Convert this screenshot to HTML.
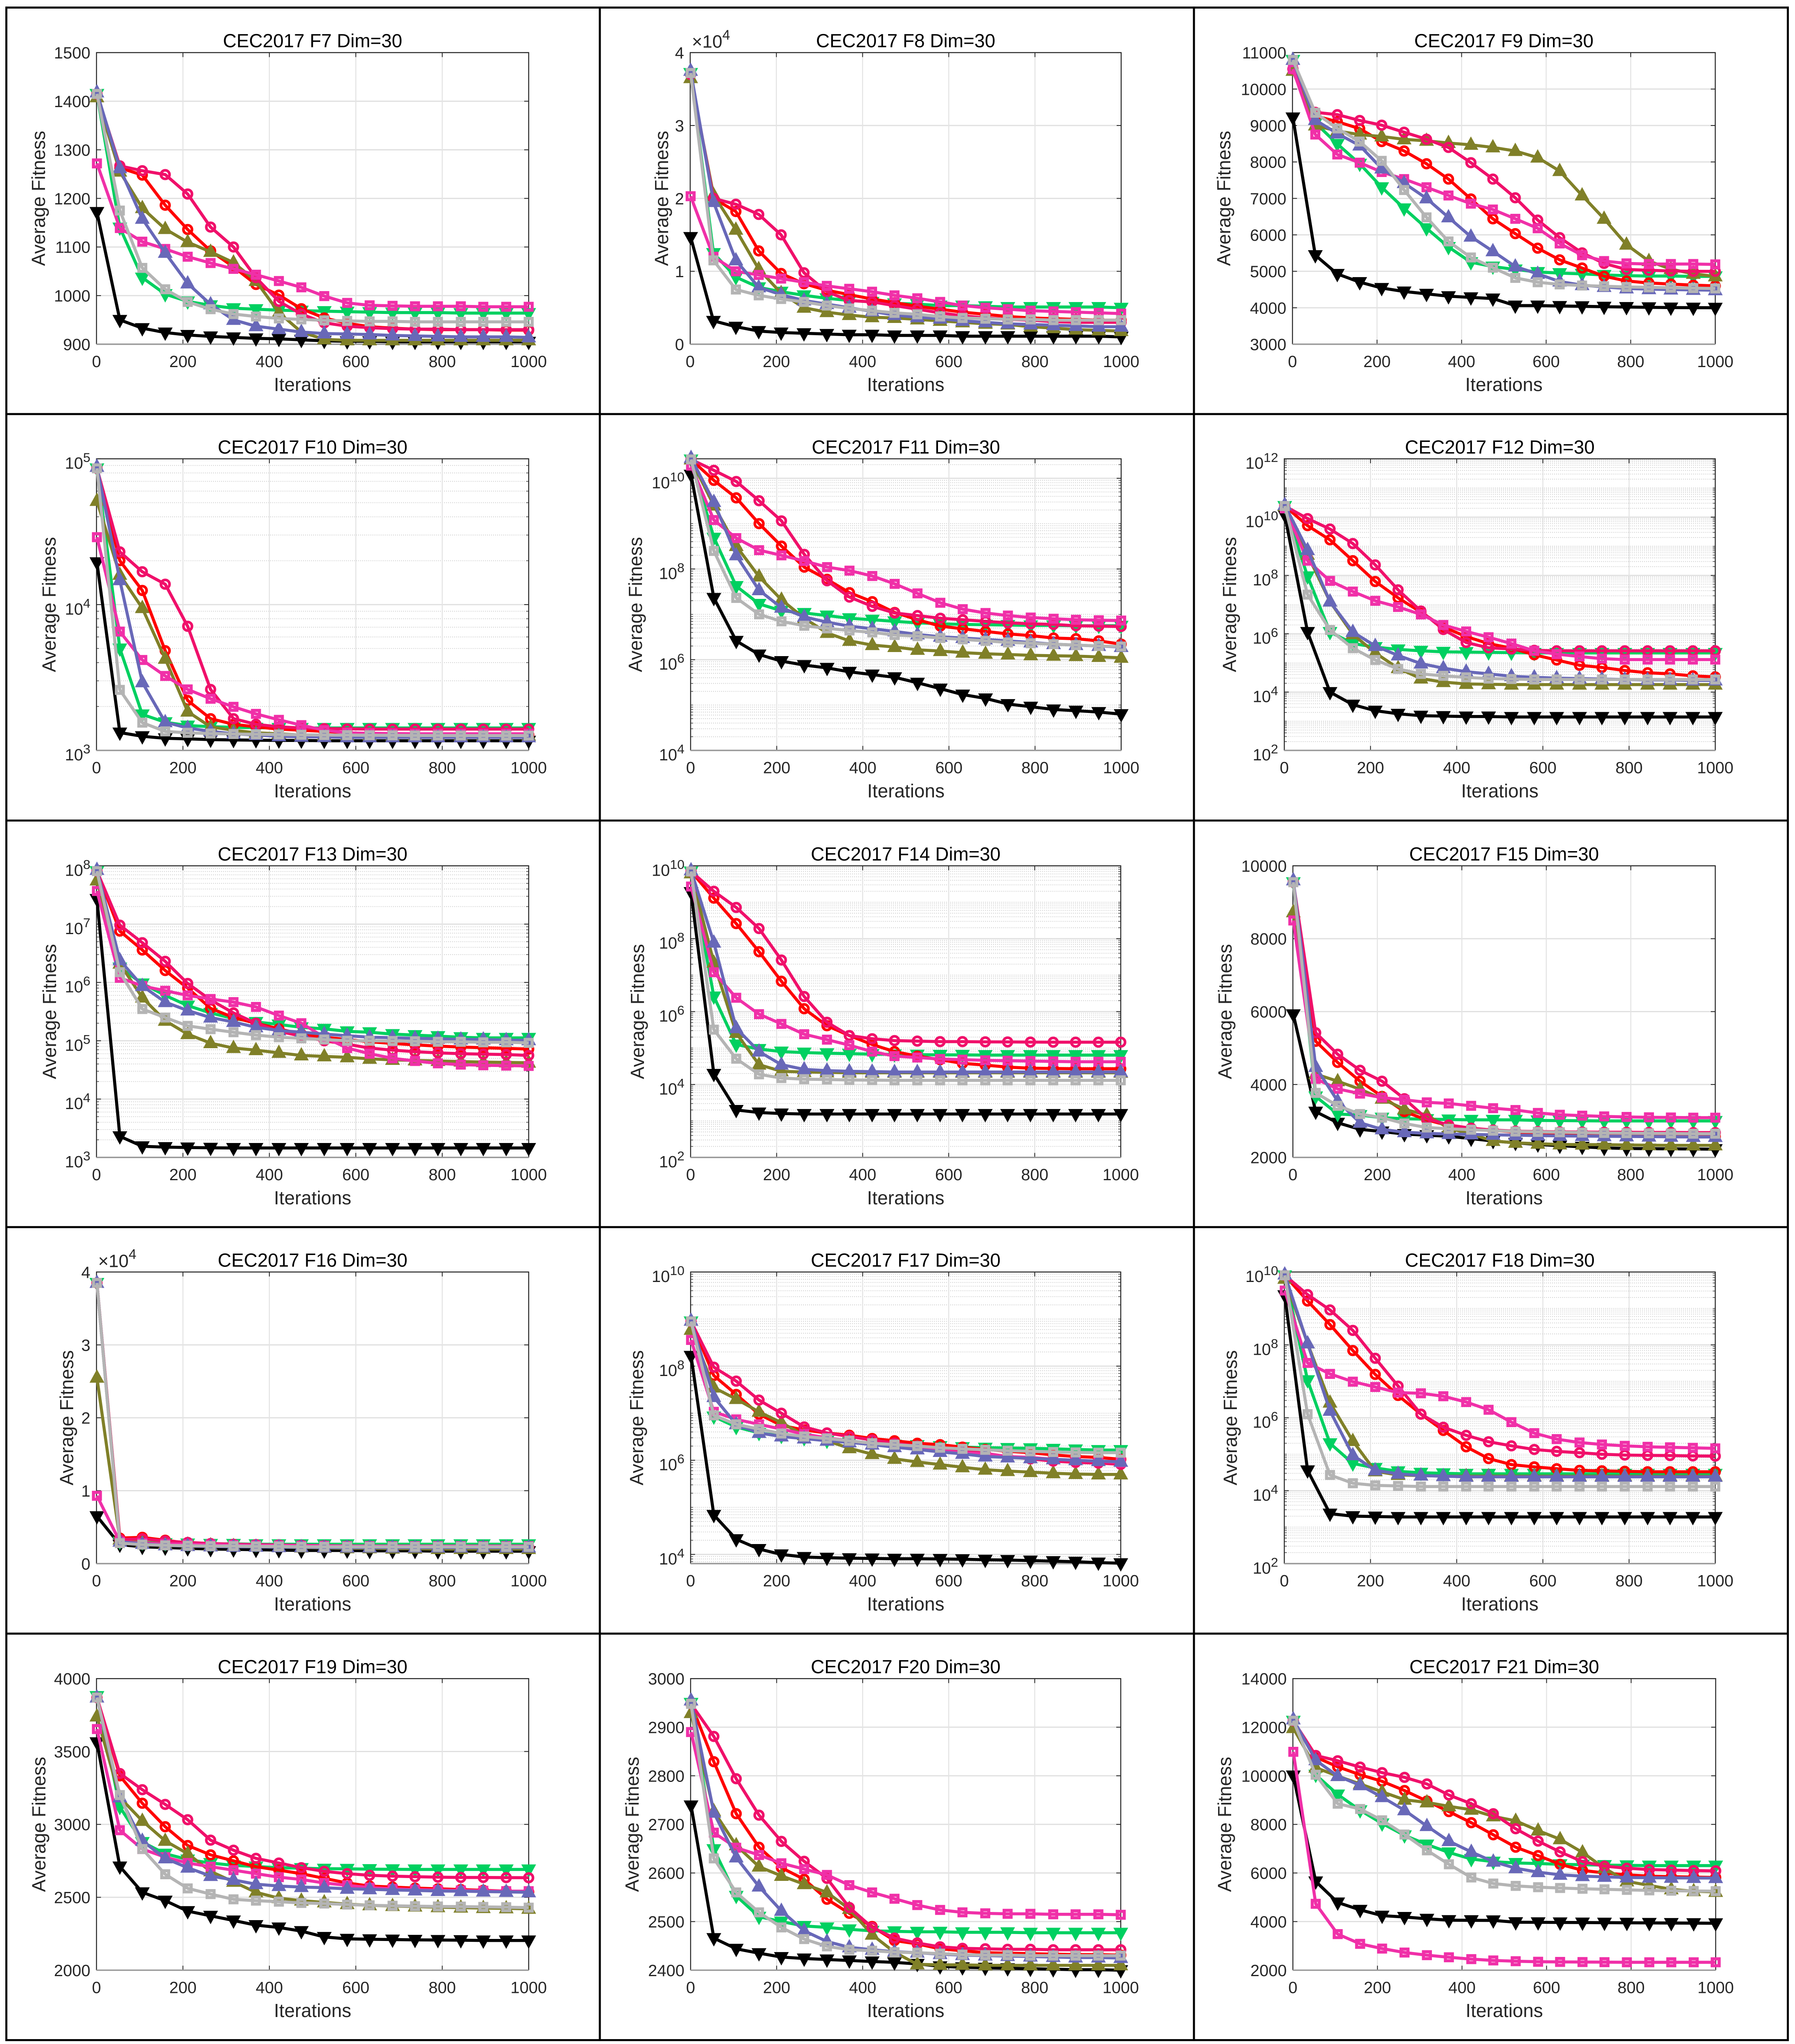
<!DOCTYPE html>
<html lang="en">
<head>
<meta charset="utf-8">
<title>CEC2017 convergence curves F7–F21, Dim=30</title>
<style>
html,body{margin:0;padding:0;background:#fff;width:4390px;height:5012px;overflow:hidden;}
#figure{display:block;width:4390px;height:5012px;background:#fff;font-family:"Liberation Sans",Arial,sans-serif;}
</style>
</head>
<body>
<svg id="figure" xmlns="http://www.w3.org/2000/svg" width="4390" height="5012" viewBox="0 0 4390 5012" preserveAspectRatio="none"></svg>
<script>
const iterations=[1,54,106,159,211,264,317,369,422,474,527,580,632,685,737,790,843,895,948,1000];

/* F7 */
const f7Red=[1415,1263,1248,1186,1136,1092,1059,1023,1001,973,954,943,936,933,931,930,930,930,929,929];
const f7Crimson=[1415,1267,1257,1249,1209,1141,1100,1037,988,962,944,937,934,932,931,931,930,930,930,930];
const f7Pink=[1272,1139,1111,1096,1080,1067,1055,1043,1030,1017,999,985,980,979,978,978,978,977,977,977];
const f7Black=[1172,950,933,924,919,916,914,912,911,909,907,906,906,905,905,905,905,905,905,905];
const f7Green=[1415,1140,1037,1003,988,980,974,972,970,969,968,967,966,965,965,965,964,964,964,964];
const f7Olive=[1408,1255,1180,1137,1110,1090,1068,1030,965,925,910,908,908,908,908,908,908,908,908,908];
const f7Blue=[1418,1262,1158,1088,1025,982,950,937,931,925,922,921,920,918,917,916,915,915,915,914];
const f7Gray=[1415,1175,1057,1013,987,972,962,957,953,951,949,948,947,947,946,946,946,946,946,946];
const f7Ticks=[900,1000,1100,1200,1300,1400,1500];
const f7Labels=['900','1000','1100','1200','1300','1400','1500'];

/* F8 */
const f8Red=[37000,20000,18200,12800,9700,8300,7400,6800,6200,5700,5200,4800,4400,4100,3800,3600,3500,3400,3300,3300];
const f8Crimson=[37000,20000,19200,17800,15000,9800,7200,6000,5800,5300,4800,4300,3900,3600,3400,3300,3100,3000,3000,3000];
const f8Pink=[20300,12000,10000,9500,9000,8500,8000,7600,7200,6700,6300,5800,5300,5000,4800,4600,4500,4400,4300,4200];
const f8Black=[14700,3200,2400,1800,1600,1500,1400,1300,1300,1200,1200,1200,1100,1100,1100,1100,1100,1100,1100,1000];
const f8Green=[37200,12500,9200,7800,7200,6700,6300,6000,5800,5600,5500,5300,5300,5200,5100,5100,5100,5100,5100,5000];
const f8Olive=[36500,20500,15700,10300,7000,5000,4400,4000,3700,3600,3400,3200,3000,2800,2700,2400,2200,2000,1900,1800];
const f8Blue=[37500,19500,11500,7800,6800,6000,5500,5000,4500,4000,3700,3500,3200,3000,2800,2700,2600,2500,2400,2400];
const f8Gray=[37200,11500,7500,6700,6200,5800,5300,4900,4600,4300,4100,3800,3600,3500,3400,3400,3300,3300,3300,3300];
const f8Ticks=[0,10000,20000,30000,40000];
const f8Labels=['0','1','2','3','4'];

/* F9 */
const f9Red=[10550,9266,9105,8913,8560,8302,7950,7530,6985,6440,6033,5635,5314,5090,4864,4735,4680,4650,4620,4600];
const f9Crimson=[10550,9362,9298,9138,9009,8816,8623,8398,7980,7530,7017,6406,5924,5506,5217,5050,5030,5010,5000,5000];
const f9Pink=[10550,8752,8205,7980,7724,7530,7306,7080,6856,6695,6440,6180,5764,5442,5281,5217,5200,5200,5200,5190];
const f9Black=[9220,5442,4928,4703,4542,4446,4382,4317,4285,4253,4060,4060,4048,4040,4028,4020,4012,4005,4002,4000];
const f9Green=[10800,9073,8495,7950,7306,6727,6181,5667,5249,5130,5050,4980,4950,4930,4900,4880,4870,4870,4860,4860];
const f9Olive=[10500,9000,8850,8750,8700,8620,8580,8520,8470,8400,8300,8120,7750,7080,6440,5730,5280,5060,4930,4860];
const f9Blue=[10800,9150,8780,8450,7820,7420,7000,6480,5950,5550,5130,4930,4720,4620,4570,4530,4510,4500,4490,4480];
const f9Gray=[10800,9350,8920,8560,8030,7230,6480,5820,5380,5100,4820,4700,4640,4610,4590,4570,4560,4550,4540,4530];
const f9Ticks=[3000,4000,5000,6000,7000,8000,9000,10000,11000];
const f9Labels=['3000','4000','5000','6000','7000','8000','9000','10000','11000'];

/* F10 */
const f10Red=[86000,20000,12500,4830,2200,1650,1510,1450,1400,1375,1350,1320,1300,1290,1285,1280,1280,1280,1280,1280];
const f10Crimson=[86000,23000,16800,13800,7100,2620,1650,1510,1450,1425,1410,1405,1400,1400,1400,1400,1400,1400,1400,1400];
const f10Pink=[29000,6530,4170,3240,2620,2260,1990,1780,1620,1490,1375,1320,1310,1305,1300,1300,1300,1300,1300,1300];
const f10Black=[19500,1325,1250,1210,1200,1185,1180,1175,1170,1170,1165,1165,1165,1165,1165,1165,1165,1165,1165,1165];
const f10Green=[86000,5000,1765,1560,1480,1455,1440,1430,1425,1425,1425,1425,1425,1425,1425,1425,1425,1425,1425,1425];
const f10Olive=[51400,16000,9460,4250,1845,1450,1375,1320,1300,1275,1270,1265,1265,1260,1260,1260,1260,1260,1260,1260];
const f10Blue=[88000,14700,2930,1560,1425,1350,1300,1275,1250,1240,1235,1230,1230,1230,1230,1230,1230,1230,1230,1230];
const f10Gray=[86000,2600,1550,1350,1320,1305,1295,1290,1285,1280,1275,1272,1270,1268,1266,1265,1264,1263,1263,1263];
const f10Ticks=[1e3,1e4,1e5];
const f10Labels=['3','4','5'];

/* F11 */
const f11Red=[2.6e10,9e9,3.7e9,1e9,3.2e8,1.1e8,5.9e7,3e7,1.9e7,1.1e7,7.6e6,5.5e6,4.8e6,4.2e6,3.7e6,3.4e6,3e6,2.9e6,2.6e6,2.2e6];
const f11Crimson=[2.6e10,1.5e10,8.5e9,3.2e9,1.15e9,2.1e8,5.5e7,2.4e7,1.5e7,1.07e7,9.4e6,8.2e6,7.6e6,7e6,6.5e6,6.2e6,6e6,5.6e6,5.5e6,5.4e6];
const f11Pink=[1.9e10,1.2e9,4.8e8,2.6e8,2e8,1.5e8,1.1e8,9.2e7,7e7,4.7e7,2.9e7,1.8e7,1.3e7,1.07e7,9.4e6,8.5e6,8e6,7.6e6,7.4e6,7.3e6];
const f11Black=[1.2e10,2.3e7,2.6e6,1.3e6,9.3e5,7.6e5,6.6e5,5.4e5,4.7e5,4.1e5,3.1e5,2.3e5,1.7e5,1.4e5,1.05e5,9.2e4,8e4,7.5e4,7e4,6.3e4];
const f11Green=[2.6e10,4.9e8,4.2e7,1.7e7,1.2e7,1.07e7,9.4e6,8.2e6,7.6e6,7e6,6.5e6,6.2e6,6e6,5.9e6,5.8e6,5.7e6,5.7e6,5.6e6,5.6e6,5.6e6];
const f11Olive=[2.6e10,2.5e9,3.2e8,6.8e7,2.1e7,8.2e6,3.9e6,2.6e6,2.1e6,1.9e6,1.65e6,1.55e6,1.43e6,1.35e6,1.3e6,1.25e6,1.22e6,1.2e6,1.15e6,1.1e6];
const f11Blue=[2.8e10,3e9,2e8,3.4e7,1.4e7,8.8e6,6.7e6,5.5e6,4.8e6,4.2e6,3.6e6,3.2e6,3e6,2.8e6,2.6e6,2.4e6,2.2e6,2.1e6,2e6,1.9e6];
const f11Gray=[2.6e10,2.5e8,2.3e7,1e7,7e6,5.6e6,4.9e6,4.4e6,4e6,3.5e6,3.3e6,3e6,2.8e6,2.6e6,2.4e6,2.3e6,2.2e6,2.1e6,2e6,1.95e6];
const f11Ticks=[1e4,1e6,1e8,1e10];
const f11Labels=['4','6','8','10'];

/* F12 */
const f12Red=[2.4e10,5.1e9,1.66e9,3.2e8,6.2e7,1.7e7,5.5e6,1.7e6,8e5,4.6e5,3.2e5,1.9e5,1.26e5,8.3e4,7e4,5.5e4,4.6e4,4.2e4,3.6e4,3.3e4];
const f12Crimson=[2.4e10,8.9e9,3.9e9,1.24e9,2.3e8,3.2e7,6e6,1.4e6,5e5,3.3e5,3e5,2.7e5,2.6e5,2.6e5,2.6e5,2.6e5,2.6e5,2.6e5,2.6e5,2.6e5];
const f12Pink=[2e10,3.2e8,6.5e7,2.8e7,1.35e7,8.3e6,4.6e6,2e6,1.2e6,7.6e5,4.6e5,2.6e5,2e5,1.66e5,1.4e5,1.3e5,1.3e5,1.3e5,1.3e5,1.3e5];
const f12Black=[1.2e10,1.15e6,1e4,3.7e3,2.3e3,1.8e3,1.55e3,1.5e3,1.45e3,1.45e3,1.4e3,1.4e3,1.4e3,1.4e3,1.4e3,1.4e3,1.4e3,1.4e3,1.4e3,1.4e3];
const f12Green=[2.4e10,9.3e7,1.15e6,4.6e5,3.5e5,2.9e5,2.6e5,2.4e5,2.35e5,2.3e5,2.25e5,2.2e5,2.2e5,2.2e5,2.2e5,2.2e5,2.2e5,2.2e5,2.2e5,2.2e5];
const f12Olive=[2.4e10,5.1e8,1.27e7,9.6e5,2.2e5,6.6e4,2.9e4,2.2e4,1.9e4,1.85e4,1.8e4,1.8e4,1.8e4,1.8e4,1.8e4,1.8e4,1.8e4,1.8e4,1.8e4,1.8e4];
const f12Blue=[2.6e10,7.4e8,1.27e7,1.15e6,3.8e5,1.8e5,9.5e4,6.6e4,5e4,4.2e4,3.5e4,3.2e4,3e4,2.9e4,2.8e4,2.7e4,2.6e4,2.6e4,2.5e4,2.5e4];
const f12Gray=[2.4e10,2.2e7,1.35e6,3.2e5,1.26e5,6.2e4,4.2e4,3.6e4,3.2e4,2.9e4,2.8e4,2.7e4,2.7e4,2.7e4,2.7e4,2.7e4,2.7e4,2.7e4,2.7e4,2.7e4];
const f12Ticks=[1e2,1e4,1e6,1e8,1e10,1e12];
const f12Labels=['2','4','6','8','10','12'];

/* F13 */
const f13Red=[8.1e7,7.6e6,3.6e6,1.6e6,8e5,3.6e5,2.5e5,2e5,1.6e5,1.3e5,1.15e5,1.05e5,9.6e4,9e4,8.5e4,8.1e4,7.8e4,7.6e4,7.4e4,7.2e4];
const f13Crimson=[8.1e7,9.6e6,4.8e6,2.3e6,9.6e5,5e5,3e5,2e5,1.45e5,1.2e5,1e5,8.7e4,7.5e4,6.9e4,6.5e4,6.2e4,6e4,5.9e4,5.8e4,5.6e4];
const f13Pink=[3.7e7,1.2e6,8.7e5,7.2e5,6e5,5.2e5,4.6e5,3.8e5,2.7e5,2e5,1.15e5,7.5e4,6e4,5e4,4.5e4,4.1e4,3.9e4,3.8e4,3.75e4,3.7e4];
const f13Black=[2.7e7,2.3e3,1.55e3,1.5e3,1.48e3,1.46e3,1.45e3,1.45e3,1.45e3,1.45e3,1.45e3,1.45e3,1.45e3,1.45e3,1.45e3,1.45e3,1.45e3,1.45e3,1.45e3,1.45e3];
const f13Green=[8.1e7,1.8e6,9.6e5,6e5,4e5,3e5,2.4e5,2.1e5,1.9e5,1.7e5,1.6e5,1.45e5,1.4e5,1.3e5,1.25e5,1.2e5,1.15e5,1.12e5,1.12e5,1.12e5];
const f13Olive=[5.6e7,2.1e6,5.5e5,2.2e5,1.3e5,9.1e4,7.5e4,6.9e4,6.2e4,5.6e4,5.4e4,5.2e4,4.9e4,4.7e4,4.6e4,4.5e4,4.4e4,4.3e4,4.25e4,4.2e4];
const f13Blue=[8.5e7,2.4e6,8.7e5,4.6e5,3.3e5,2.5e5,2.1e5,1.7e5,1.5e5,1.4e5,1.3e5,1.22e5,1.15e5,1.13e5,1.1e5,1.08e5,1.05e5,1.05e5,1.02e5,1.02e5];
const f13Gray=[8.1e7,1.5e6,3.5e5,2.5e5,1.8e5,1.58e5,1.4e5,1.25e5,1.15e5,1.1e5,1.05e5,1e5,1e5,9.9e4,9.8e4,9.6e4,9.6e4,9.4e4,9.4e4,9.2e4];
const f13Ticks=[1e3,1e4,1e5,1e6,1e7,1e8];
const f13Labels=['3','4','5','6','7','8'];

/* F14 */
const f14Red=[7e9,1.3e9,2.6e8,4.4e7,6.8e6,1.2e6,4.1e5,2.2e5,1.25e5,8e4,6e4,4.8e4,3.8e4,3.4e4,3e4,2.8e4,2.75e4,2.7e4,2.7e4,2.7e4];
const f14Crimson=[7e9,2e9,7.2e8,1.9e8,2.6e7,2.6e6,5.1e5,2.2e5,1.8e5,1.6e5,1.55e5,1.5e5,1.5e5,1.48e5,1.47e5,1.46e5,1.45e5,1.45e5,1.45e5,1.45e5];
const f14Pink=[2.7e9,1.2e7,2.4e6,8.5e5,4.6e5,2.4e5,1.7e5,1.2e5,8e4,6e4,5.5e4,5e4,4.8e4,4.6e4,4.5e4,4.4e4,4.3e4,4.2e4,4.2e4,4.2e4];
const f14Black=[1.9e9,1.95e4,2e3,1.7e3,1.6e3,1.55e3,1.55e3,1.55e3,1.55e3,1.55e3,1.55e3,1.55e3,1.55e3,1.55e3,1.55e3,1.55e3,1.55e3,1.55e3,1.55e3,1.55e3];
const f14Green=[7e9,2.6e6,1.25e5,9.4e4,8e4,7.5e4,7.2e4,7e4,6.8e4,6.7e4,6.6e4,6.5e4,6.5e4,6.4e4,6.4e4,6.4e4,6.4e4,6.4e4,6.4e4,6.4e4];
const f14Olive=[6.2e9,2.2e7,2.6e5,3.5e4,2.3e4,2.2e4,2.15e4,2.1e4,2.1e4,2.1e4,2.1e4,2.1e4,2.1e4,2.1e4,2.1e4,2.1e4,2.1e4,2.1e4,2.1e4,2.1e4];
const f14Blue=[7.5e9,7.8e7,3.5e5,8e4,3.5e4,2.6e4,2.4e4,2.3e4,2.25e4,2.2e4,2.2e4,2.2e4,2.2e4,2.2e4,2.2e4,2.2e4,2.2e4,2.2e4,2.2e4,2.2e4];
const f14Gray=[7e9,3.2e5,5.1e4,1.9e4,1.5e4,1.4e4,1.37e4,1.33e4,1.32e4,1.3e4,1.3e4,1.3e4,1.3e4,1.3e4,1.3e4,1.3e4,1.3e4,1.3e4,1.3e4,1.3e4];
const f14Ticks=[1e2,1e4,1e6,1e8,1e10];
const f14Labels=['2','4','6','8','10'];

/* F15 */
const f15Red=[9550,5185,4606,4090,3673,3255,3030,2870,2800,2740,2695,2660,2640,2620,2600,2590,2580,2575,2570,2570];
const f15Crimson=[9550,5420,4830,4390,4090,3610,3060,2890,2800,2750,2720,2710,2700,2695,2690,2690,2685,2685,2680,2680];
const f15Pink=[8500,4155,3880,3750,3640,3580,3510,3480,3415,3350,3300,3220,3170,3145,3125,3110,3100,3095,3090,3090];
const f15Black=[5925,3255,2950,2770,2710,2640,2610,2580,2515,2450,2400,2355,2320,2290,2260,2245,2240,2235,2230,2225];
const f15Green=[9550,3673,3190,3160,3090,3060,3050,3040,3030,3030,3030,3015,3010,3005,3000,3000,3000,3000,3000,3000];
const f15Olive=[8725,4285,4090,3870,3610,3320,3160,2800,2640,2450,2400,2375,2355,2350,2350,2340,2335,2330,2330,2330];
const f15Blue=[9600,4480,3545,2950,2770,2690,2660,2640,2630,2620,2610,2600,2590,2585,2580,2575,2570,2565,2560,2560];
const f15Gray=[9550,3770,3415,3190,3090,2930,2820,2785,2760,2735,2710,2700,2690,2680,2670,2665,2660,2655,2650,2650];
const f15Ticks=[2000,4000,6000,8000,10000];
const f15Labels=['2000','4000','6000','8000','10000'];

/* F16 */
const f16Red=[38500,3500,3600,3200,2800,2700,2600,2550,2500,2450,2400,2350,2300,2300,2300,2250,2250,2250,2200,2200];
const f16Crimson=[38500,3300,3400,3100,2900,2750,2650,2600,2550,2500,2450,2400,2380,2350,2350,2300,2300,2300,2300,2300];
const f16Pink=[9300,3000,2800,2700,2650,2600,2550,2500,2500,2450,2450,2400,2400,2400,2400,2400,2400,2400,2400,2400];
const f16Black=[6500,2600,2300,2200,2100,2000,1950,1900,1850,1800,1800,1800,1750,1750,1750,1700,1700,1700,1700,1700];
const f16Green=[38500,3000,2900,2800,2750,2700,2700,2650,2650,2650,2650,2650,2650,2650,2650,2650,2650,2650,2650,2650];
const f16Olive=[25500,3300,2900,2700,2600,2500,2400,2300,2250,2200,2150,2100,2100,2050,2050,2000,2000,2000,2000,2000];
const f16Blue=[38500,3000,2700,2500,2400,2350,2300,2300,2250,2250,2200,2200,2200,2200,2200,2200,2200,2200,2200,2200];
const f16Gray=[38500,2800,2600,2500,2450,2400,2400,2350,2350,2300,2300,2300,2300,2300,2300,2300,2300,2300,2300,2300];
const f16Ticks=[0,10000,20000,30000,40000];
const f16Labels=['0','1','2','3','4'];

/* F17 */
const f17Red=[8.9e8,6.3e7,2.5e7,9.5e6,5.5e6,4.4e6,3.8e6,3.4e6,2.9e6,2.6e6,2.3e6,2.15e6,1.9e6,1.7e6,1.55e6,1.45e6,1.3e6,1.2e6,1.15e6,1.05e6];
const f17Crimson=[8.9e8,9.5e7,4.8e7,1.9e7,1e7,5.1e6,3.8e6,3.2e6,2.7e6,2.3e6,2e6,1.8e6,1.6e6,1.4e6,1.2e6,1.07e6,9.6e5,9e5,8.7e5,8.2e5];
const f17Pink=[3.6e8,1.07e7,7.4e6,5.8e6,4.6e6,3.6e6,3e6,2.6e6,2.3e6,2e6,1.8e6,1.6e6,1.45e6,1.37e6,1.2e6,1.15e6,1.05e6,1e6,9.6e5,9e5];
const f17Black=[1.65e8,6.9e4,2.1e4,1.3e4,1e4,8.8e3,8.5e3,8.3e3,8.2e3,8.1e3,8.1e3,8e3,7.9e3,7.7e3,7.6e3,7.4e3,7.2e3,7e3,6.7e3,6.5e3];
const f17Green=[8.9e8,8.5e6,5.1e6,3.8e6,3.3e6,2.95e6,2.6e6,2.4e6,2.3e6,2.15e6,2.1e6,2e6,1.9e6,1.85e6,1.82e6,1.8e6,1.75e6,1.7e6,1.65e6,1.65e6];
const f17Olive=[5.9e8,3.5e7,2e7,1.07e7,6.3e6,3.4e6,2.6e6,1.8e6,1.35e6,1.07e6,9.2e5,8.1e5,7.1e5,6.3e5,5.9e5,5.6e5,5.3e5,5.1e5,5e5,5e5];
const f17Blue=[9.2e8,2.2e7,5.8e6,3.8e6,3.2e6,2.9e6,2.6e6,2.4e6,2.15e6,1.9e6,1.7e6,1.5e6,1.37e6,1.2e6,1.15e6,1.1e6,1.05e6,1e6,9.6e5,9.3e5];
const f17Gray=[8.9e8,9e6,5.8e6,4.6e6,3.7e6,3.2e6,2.9e6,2.6e6,2.3e6,2.15e6,2e6,1.85e6,1.75e6,1.67e6,1.6e6,1.55e6,1.5e6,1.47e6,1.45e6,1.45e6];
const f17Ticks=[1e4,1e6,1e8,1e10];
const f17Labels=['4','6','8','10'];

/* F18 */
const f18Red=[8.1e9,1.6e9,3.6e8,7e7,1.55e7,4.1e6,1.26e6,4.5e5,1.6e5,7.6e4,5.2e4,4.5e4,4e4,3.6e4,3.5e4,3.4e4,3.3e4,3.3e4,3.3e4,3.3e4];
const f18Crimson=[8.1e9,2.4e9,9.1e8,2.5e8,4.3e7,7.4e6,1.26e6,5.5e5,3.3e5,2.2e5,1.7e5,1.35e5,1.2e5,1.1e5,1e5,9.5e4,9.3e4,9.2e4,9e4,8.9e4];
const f18Pink=[3.1e9,3.2e7,1.6e7,9.8e6,7e6,4.9e6,4.7e6,3.9e6,2.7e6,1.66e6,7.6e5,3.8e5,2.6e5,2.1e5,1.85e5,1.7e5,1.6e5,1.55e5,1.5e5,1.45e5];
const f18Black=[2.3e9,3.6e4,2.35e3,2e3,1.95e3,1.9e3,1.9e3,1.9e3,1.9e3,1.9e3,1.9e3,1.9e3,1.9e3,1.9e3,1.9e3,1.9e3,1.9e3,1.9e3,1.9e3,1.9e3];
const f18Green=[8.1e9,1.07e7,2e5,5.6e4,4.2e4,3.4e4,3.1e4,3e4,2.9e4,2.9e4,2.9e4,2.9e4,2.9e4,2.9e4,2.9e4,2.9e4,2.9e4,2.9e4,2.9e4,2.9e4];
const f18Olive=[6.5e9,1.1e8,2.6e6,2.3e5,3.4e4,2.7e4,2.6e4,2.5e4,2.5e4,2.5e4,2.5e4,2.5e4,2.5e4,2.5e4,2.5e4,2.5e4,2.5e4,2.5e4,2.5e4,2.5e4];
const f18Blue=[8.5e9,1.1e8,1.55e6,9.4e4,3.6e4,2.9e4,2.6e4,2.5e4,2.4e4,2.4e4,2.4e4,2.4e4,2.4e4,2.4e4,2.4e4,2.4e4,2.4e4,2.4e4,2.4e4,2.4e4];
const f18Gray=[8.1e9,1.26e6,2.7e4,1.6e4,1.4e4,1.35e4,1.3e4,1.3e4,1.3e4,1.3e4,1.3e4,1.3e4,1.3e4,1.3e4,1.3e4,1.3e4,1.3e4,1.3e4,1.3e4,1.3e4];
const f18Ticks=[1e2,1e4,1e6,1e8,1e10];
const f18Labels=['2','4','6','8','10'];

/* F19 */
const f19Red=[3870,3333,3145,2984,2855,2791,2750,2710,2686,2662,2630,2598,2577,2570,2563,2558,2553,2548,2542,2537];
const f19Crimson=[3870,3349,3238,3137,3032,2892,2823,2767,2735,2703,2678,2662,2651,2645,2641,2638,2636,2636,2635,2634];
const f19Pink=[3654,2960,2831,2775,2735,2710,2686,2662,2638,2622,2598,2582,2566,2558,2553,2550,2547,2545,2542,2542];
const f19Black=[3563,2711,2534,2477,2405,2373,2341,2309,2293,2268,2228,2215,2212,2210,2208,2207,2206,2204,2204,2204];
const f19Green=[3880,3120,2879,2799,2759,2735,2719,2711,2703,2700,2696,2695,2693,2692,2691,2691,2691,2691,2691,2691];
const f19Olive=[3740,3185,3024,2887,2799,2678,2606,2534,2494,2477,2465,2453,2445,2440,2436,2432,2429,2426,2424,2421];
const f19Blue=[3870,3185,2887,2767,2703,2646,2619,2590,2577,2570,2566,2558,2555,2550,2547,2543,2542,2539,2537,2534];
const f19Gray=[3870,3201,2831,2658,2561,2522,2486,2477,2470,2461,2457,2450,2445,2442,2439,2437,2436,2434,2432,2429];
const f19Ticks=[2000,2500,3000,3500,4000];
const f19Labels=['2000','2500','3000','3500','4000'];

/* F20 */
const f20Red=[2948,2829,2722,2653,2611,2587,2546,2517,2490,2461,2454,2444,2440,2436,2435,2434,2433,2432,2432,2431];
const f20Crimson=[2948,2881,2794,2719,2665,2624,2589,2529,2488,2466,2456,2448,2445,2444,2443,2443,2442,2442,2442,2442];
const f20Pink=[2890,2683,2652,2637,2620,2608,2596,2575,2560,2547,2534,2524,2519,2517,2516,2516,2515,2515,2515,2514];
const f20Black=[2739,2466,2444,2435,2427,2424,2422,2420,2418,2416,2413,2408,2406,2405,2404,2403,2402,2401,2401,2400];
const f20Green=[2950,2649,2553,2510,2500,2491,2488,2484,2481,2480,2479,2479,2478,2478,2478,2477,2477,2477,2477,2477];
const f20Olive=[2929,2727,2657,2613,2594,2577,2560,2526,2473,2437,2412,2411,2411,2410,2410,2410,2410,2410,2410,2410];
const f20Blue=[2955,2724,2632,2572,2522,2481,2459,2447,2442,2438,2436,2433,2431,2430,2429,2428,2427,2426,2426,2425];
const f20Gray=[2948,2630,2560,2519,2488,2464,2449,2442,2440,2437,2436,2434,2432,2431,2431,2430,2430,2430,2430,2430];
const f20Ticks=[2400,2500,2600,2700,2800,2900,3000];
const f20Labels=['2400','2500','2600','2700','2800','2900','3000'];

/* F21 */
const f21Red=[12265,10770,10369,10043,9772,9393,8960,8526,8070,7572,7062,6716,6358,6108,6000,5924,5870,5850,5830,5815];
const f21Crimson=[12265,10835,10618,10358,10130,9935,9664,9209,8851,8439,7821,7312,6867,6466,6282,6195,6141,6120,6100,6087];
const f21Pink=[10987,4732,3485,3084,2889,2726,2618,2531,2455,2401,2369,2347,2340,2335,2330,2325,2325,2325,2325,2325];
const f21Black=[10011,5653,4786,4482,4244,4190,4114,4060,4055,4049,3973,3970,3965,3960,3955,3950,3945,3940,3935,3930];
const f21Green=[12265,10043,9230,8580,8038,7550,7171,6846,6575,6466,6412,6390,6358,6340,6325,6314,6304,6304,6304,6304];
const f21Olive=[11962,10336,9989,9664,9339,9014,8905,8743,8602,8331,8146,7745,7388,6846,6195,5653,5490,5328,5250,5220];
const f21Blue=[12319,10640,9989,9610,9122,8580,7930,7312,6867,6466,6195,6033,5924,5870,5840,5815,5805,5800,5795,5790];
const f21Gray=[12265,10043,8851,8634,8168,7583,6932,6358,5815,5566,5469,5415,5382,5350,5328,5305,5285,5270,5260,5252];
const f21Ticks=[2000,4000,6000,8000,10000,12000,14000];
const f21Labels=['2000','4000','6000','8000','10000','12000','14000'];

/* Series styling: draw order goes back to front */
const seriesStyles=[
 {key:'black',color:'#000000',marker:'down'},
 {key:'green',color:'#00d060',marker:'down'},
 {key:'red',color:'#ff0000',marker:'circle'},
 {key:'olive',color:'#808028',marker:'up'},
 {key:'crimson',color:'#f0106a',marker:'circle'},
 {key:'pink',color:'#f030a8',marker:'square'},
 {key:'blue',color:'#6868b8',marker:'up'},
 {key:'gray',color:'#b4b4b4',marker:'square'}
];

const panels=[
 {id:'f7',title:'CEC2017 F7 Dim=30',l:236,r:1293,t:129,b:844,yl:94,scale:'lin',min:900,max:1500,ticks:f7Ticks,labels:f7Labels,
  s:{red:f7Red,crimson:f7Crimson,pink:f7Pink,black:f7Black,green:f7Green,olive:f7Olive,blue:f7Blue,gray:f7Gray}},
 {id:'f8',title:'CEC2017 F8 Dim=30',l:1688,r:2742,t:129,b:844,yl:1618,scale:'lin',min:0,max:40000,ticks:f8Ticks,labels:f8Labels,mult:true,
  s:{red:f8Red,crimson:f8Crimson,pink:f8Pink,black:f8Black,green:f8Green,olive:f8Olive,blue:f8Blue,gray:f8Gray}},
 {id:'f9',title:'CEC2017 F9 Dim=30',l:3161,r:4195,t:129,b:844,yl:2993,scale:'lin',min:3000,max:11000,ticks:f9Ticks,labels:f9Labels,
  s:{red:f9Red,crimson:f9Crimson,pink:f9Pink,black:f9Black,green:f9Green,olive:f9Olive,blue:f9Blue,gray:f9Gray}},
 {id:'f10',title:'CEC2017 F10 Dim=30',l:236,r:1293,t:1125,b:1840,yl:120,scale:'log',min:1e3,max:1e5,ticks:f10Ticks,labels:f10Labels,
  s:{red:f10Red,crimson:f10Crimson,pink:f10Pink,black:f10Black,green:f10Green,olive:f10Olive,blue:f10Blue,gray:f10Gray}},
 {id:'f11',title:'CEC2017 F11 Dim=30',l:1689,r:2742,t:1125,b:1840,yl:1554,scale:'log',min:1e4,max:2.69e10,ticks:f11Ticks,labels:f11Labels,
  s:{red:f11Red,crimson:f11Crimson,pink:f11Pink,black:f11Black,green:f11Green,olive:f11Olive,blue:f11Blue,gray:f11Gray}},
 {id:'f12',title:'CEC2017 F12 Dim=30',l:3141,r:4195,t:1125,b:1840,yl:3007,scale:'log',min:1e2,max:1e12,ticks:f12Ticks,labels:f12Labels,
  s:{red:f12Red,crimson:f12Crimson,pink:f12Pink,black:f12Black,green:f12Green,olive:f12Olive,blue:f12Blue,gray:f12Gray}},
 {id:'f13',title:'CEC2017 F13 Dim=30',l:236,r:1293,t:2123,b:2838,yl:121,scale:'log',min:1e3,max:1e8,ticks:f13Ticks,labels:f13Labels,
  s:{red:f13Red,crimson:f13Crimson,pink:f13Pink,black:f13Black,green:f13Green,olive:f13Olive,blue:f13Blue,gray:f13Gray}},
 {id:'f14',title:'CEC2017 F14 Dim=30',l:1689,r:2741,t:2123,b:2838,yl:1559,scale:'log',min:1e2,max:1e10,ticks:f14Ticks,labels:f14Labels,
  s:{red:f14Red,crimson:f14Crimson,pink:f14Pink,black:f14Black,green:f14Green,olive:f14Olive,blue:f14Blue,gray:f14Gray}},
 {id:'f15',title:'CEC2017 F15 Dim=30',l:3162,r:4195,t:2123,b:2838,yl:2996,scale:'lin',min:2000,max:10000,ticks:f15Ticks,labels:f15Labels,
  s:{red:f15Red,crimson:f15Crimson,pink:f15Pink,black:f15Black,green:f15Green,olive:f15Olive,blue:f15Blue,gray:f15Gray}},
 {id:'f16',title:'CEC2017 F16 Dim=30',l:236,r:1293,t:3119,b:3834,yl:163,scale:'lin',min:0,max:40000,ticks:f16Ticks,labels:f16Labels,mult:true,
  s:{red:f16Red,crimson:f16Crimson,pink:f16Pink,black:f16Black,green:f16Green,olive:f16Olive,blue:f16Blue,gray:f16Gray}},
 {id:'f17',title:'CEC2017 F17 Dim=30',l:1689,r:2741,t:3119,b:3834,yl:1557,scale:'log',min:6383,max:1e10,ticks:f17Ticks,labels:f17Labels,
  s:{red:f17Red,crimson:f17Crimson,pink:f17Pink,black:f17Black,green:f17Green,olive:f17Olive,blue:f17Blue,gray:f17Gray}},
 {id:'f18',title:'CEC2017 F18 Dim=30',l:3141,r:4195,t:3119,b:3834,yl:3009,scale:'log',min:1e2,max:1e10,ticks:f18Ticks,labels:f18Labels,
  s:{red:f18Red,crimson:f18Crimson,pink:f18Pink,black:f18Black,green:f18Green,olive:f18Olive,blue:f18Blue,gray:f18Gray}},
 {id:'f19',title:'CEC2017 F19 Dim=30',l:236,r:1293,t:4116,b:4831,yl:95,scale:'lin',min:2000,max:4000,ticks:f19Ticks,labels:f19Labels,
  s:{red:f19Red,crimson:f19Crimson,pink:f19Pink,black:f19Black,green:f19Green,olive:f19Olive,blue:f19Blue,gray:f19Gray}},
 {id:'f20',title:'CEC2017 F20 Dim=30',l:1689,r:2741,t:4116,b:4831,yl:1546,scale:'lin',min:2400,max:3000,ticks:f20Ticks,labels:f20Labels,
  s:{red:f20Red,crimson:f20Crimson,pink:f20Pink,black:f20Black,green:f20Green,olive:f20Olive,blue:f20Blue,gray:f20Gray}},
 {id:'f21',title:'CEC2017 F21 Dim=30',l:3162,r:4196,t:4116,b:4831,yl:2995,scale:'lin',min:2000,max:14000,ticks:f21Ticks,labels:f21Labels,
  s:{red:f21Red,crimson:f21Crimson,pink:f21Pink,black:f21Black,green:f21Green,olive:f21Olive,blue:f21Blue,gray:f21Gray}}
];

const xTicks=[0,200,400,600,800,1000];
const xTickLabels=['0','200','400','600','800','1000'];

const NS='http://www.w3.org/2000/svg';
const root=document.getElementById('figure');
const TEXT='#262626';

/* keep the whole figure in frame when the viewport is a few pixels shorter than the page */
if(window.innerHeight>=4900&&window.innerHeight<5012){
  root.style.height=window.innerHeight+'px';
  document.documentElement.style.height=window.innerHeight+'px';
  document.body.style.height=window.innerHeight+'px';
}

function el(tag,attrs,parent){
  const n=document.createElementNS(NS,tag);
  for(const k in attrs){n.setAttribute(k,attrs[k]);}
  parent.appendChild(n);
  return n;
}

/* table borders */
const vBorders=[15.5,1467,2920,4372.5];
const hBorders=[18.5,1015.3,2012,3008.9,4005.7,5002.5];
vBorders.forEach(function(x){
  const line=el('line',{x1:x,x2:x,y1:16,y2:5005,stroke:'#000','stroke-width':5},root);
  
  
});
hBorders.forEach(function(y){
  const line=el('line',{x1:13,x2:4375,y1:y,y2:y,stroke:'#000','stroke-width':5},root);
  
  
});

function drawMarker(g,kind,x,y,color,name){
  let m;
  if(kind==='circle'){
    m=el('circle',{cx:x,cy:y,r:10.5,fill:'none',stroke:color,'stroke-width':6.5},g);
  }else if(kind==='square'){
    m=el('rect',{x:x-8.5,y:y-8.5,width:17,height:17,fill:'none',stroke:color,'stroke-width':7.5},g);
  }else if(kind==='up'){
    m=el('polygon',{points:(x)+','+(y-18)+' '+(x+16)+','+(y+11)+' '+(x-16)+','+(y+11),fill:color,stroke:color,'stroke-width':2.5},g);
  }else{
    m=el('polygon',{points:(x)+','+(y+18)+' '+(x+16)+','+(y-11)+' '+(x-16)+','+(y-11),fill:color,stroke:color,'stroke-width':2.5},g);
  }
  
  
}

panels.forEach(function(p){
  const group=el('g',{},root);
  
  

  const xAxis=function(v){return p.l+(v/1000)*(p.r-p.l);};
  const yAxis=p.scale==='log'
    ?function(v){const a=Math.log10(p.min),b=Math.log10(p.max);return p.b-(Math.log10(v)-a)/(b-a)*(p.b-p.t);}
    :function(v){return p.b-(v-p.min)/(p.max-p.min)*(p.b-p.t);};

  /* minor log grid */
  if(p.scale==='log'){
    const lo=Math.floor(Math.log10(p.min)),hi=Math.ceil(Math.log10(p.max));
    for(let d=lo;d<hi;d++){
      for(let m=1;m<=9;m++){
        const v=m*Math.pow(10,d);
        if(v<p.min||v>p.max||p.ticks.indexOf(v)>=0){continue;}
        const y=yAxis(v);
        const gl=el('line',{x1:p.l,x2:p.r,y1:y,y2:y,stroke:'#cfcfcf','stroke-width':2,'stroke-dasharray':'2 3'},group);
        
        
        const t1=el('line',{x1:p.l,x2:p.l+6,y1:y,y2:y,stroke:'#444','stroke-width':1.6},group);
        
        
        const t2=el('line',{x1:p.r-6,x2:p.r,y1:y,y2:y,stroke:'#444','stroke-width':1.6},group);
        
        
      }
    }
  }

  /* y grid, ticks, labels */
  p.ticks.forEach(function(v,i){
    const y=yAxis(v);
    const gl=el('line',{x1:p.l,x2:p.r,y1:y,y2:y,stroke:'#e0e0e0','stroke-width':3},group);
    
    
    const t1=el('line',{x1:p.l,x2:p.l+11,y1:y,y2:y,stroke:TEXT,'stroke-width':2},group);
    
    
    const t2=el('line',{x1:p.r-11,x2:p.r,y1:y,y2:y,stroke:TEXT,'stroke-width':2},group);
    
    
    const lab=el('text',{x:p.l-15,y:y+(p.scale==='log'?24.5:14.5),'text-anchor':'end','font-size':40,fill:TEXT},group);
    
    
    if(p.scale==='log'){
      const base=el('tspan',{},lab);
      base.textContent='10';
      const exp=el('tspan',{'font-size':32,dy:-17},lab);
      exp.textContent=p.labels[i];
    }else{
      lab.textContent=p.labels[i];
    }
  });

  /* x grid, ticks, labels */
  xTicks.forEach(function(v,i){
    const x=xAxis(v);
    if(v>0&&v<1000){
      const gl=el('line',{x1:x,x2:x,y1:p.t,y2:p.b,stroke:'#e4e4e4','stroke-width':2.5},group);
      
      
    }
    const t1=el('line',{x1:x,x2:x,y1:p.b-11,y2:p.b,stroke:TEXT,'stroke-width':2},group);
    
    
    const t2=el('line',{x1:x,x2:x,y1:p.t,y2:p.t+11,stroke:TEXT,'stroke-width':2},group);
    
    
    const lab=el('text',{x:x,y:p.b+56,'text-anchor':'middle','font-size':40,fill:TEXT},group);
    
    
    lab.textContent=xTickLabels[i];
  });

  /* box */
  const box=el('path',{d:'M'+p.l+' '+p.b+'V'+p.t+'H'+p.r+'V'+p.b,fill:'none',stroke:TEXT,'stroke-width':2.4},group);
  
  
  const base=el('line',{x1:p.l,x2:p.r,y1:p.b,y2:p.b,stroke:'#999','stroke-width':3.5},group);
  
  

  /* text */
  const cx=(p.l+p.r)/2, cy=(p.t+p.b)/2;
  const title=el('text',{x:cx,y:p.t-13,'text-anchor':'middle','font-size':46,fill:'#000'},group);
  
  
  title.textContent=p.title;
  const xt=el('text',{x:cx,y:p.b+115,'text-anchor':'middle','font-size':46,fill:TEXT},group);
  
  
  xt.textContent='Iterations';
  const yt=el('text',{x:0,y:0,transform:'translate('+(p.yl+16)+' '+cy+') rotate(-90)','text-anchor':'middle','font-size':46,fill:TEXT},group);
  
  
  yt.textContent='Average Fitness';

  if(p.mult){
    const mu=el('text',{x:p.l+4,y:p.t-12,'font-size':44,fill:TEXT},group);
    
    
    const a=el('tspan',{},mu);
    a.textContent='×10';
    const b=el('tspan',{'font-size':34,dy:-20},mu);
    b.textContent='4';
  }

  /* series */
  seriesStyles.forEach(function(st){
    const values=p.s[st.key];
    const sg=el('g',{},group);
    
    
    const pts=values.map(function(v,i){return xAxis(iterations[i]).toFixed(1)+','+yAxis(v).toFixed(1);}).join(' ');
    const line=el('polyline',{points:pts,fill:'none',stroke:st.color,'stroke-width':7.5,'stroke-linejoin':'round'},sg);
    
    
    values.forEach(function(v,i){
      drawMarker(sg,st.marker,xAxis(iterations[i]),yAxis(v),st.color,'point-'+st.key);
    });
  });
});
</script>
</body>
</html>
